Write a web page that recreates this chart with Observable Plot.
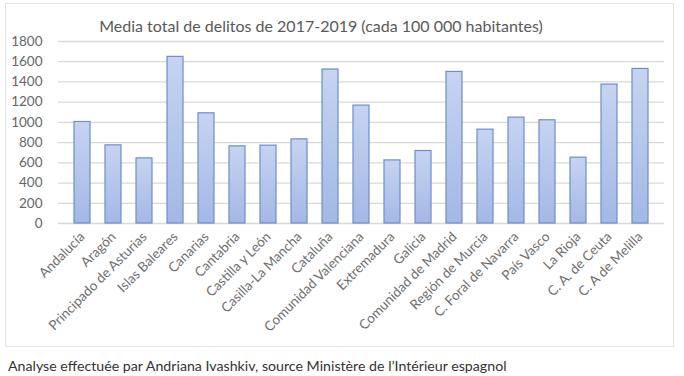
<!DOCTYPE html>
<html>
<head>
<meta charset="utf-8">
<script src="https://cdn.jsdelivr.net/npm/d3@7"></script>
<script src="https://cdn.jsdelivr.net/npm/@observablehq/plot@0.6"></script>
<style>
  html, body { margin: 0; padding: 0; background: #fff; }
  #wrap { position: relative; width: 684px; height: 376px; overflow: hidden; font-family: Lato, "Open Sans", sans-serif; }
  #frame { position: absolute; left: 5px; top: 3px; width: 669px; height: 344px; border: 1px solid #e3e3e3; box-sizing: border-box; }
  #title { position: absolute; left: 0; top: 16px; width: 642px; text-align: center; font-size: 16px; color: #595959; }
  #chart { position: absolute; left: 0; top: 0; }
  #caption { position: absolute; left: 8px; top: 357px; font-size: 14.2px; color: #333; white-space: nowrap; }
</style>
</head>
<body>
<div id="wrap">
  <div id="frame"></div>
  <div id="chart"></div>
  <div id="title">Media total de delitos de 2017-2019 (cada 100 000 habitantes)</div>
  <div id="caption">Analyse effectuée par Andriana Ivashkiv, source Ministère de l’Intérieur espagnol</div>
</div>
<script>
const regions = ["Andalucía", "Aragón", "Principado de Asturias", "Islas Baleares", "Canarias", "Cantabria", "Castilla y León", "Casilla-La Mancha", "Cataluña", "Comunidad Valenciana", "Extremadura", "Galicia", "Comunidad de Madrid", "Región de Murcia", "C. Foral de Navarra", "País Vasco", "La Rioja", "C. A. de Ceuta", "C. A de Melilla"];
const values = [1004, 773, 644, 1648, 1090, 763, 770, 832, 1523, 1166, 624, 717, 1499, 928, 1047, 1021, 651, 1374, 1529];
const yTicks = [0, 200, 400, 600, 800, 1000, 1200, 1400, 1600, 1800];

const data = regions.map((r, i) => ({region: r, value: values[i]}));

const plot = Plot.plot({
  width: 684,
  height: 350,
  marginLeft: 58,
  marginRight: 20,
  marginTop: 41,
  marginBottom: 127,
  style: {fontFamily: "Lato, 'Open Sans', sans-serif", background: "transparent"},
  x: {domain: regions, padding: 0.47, label: null, tickSize: 0, tickPadding: 11, tickRotate: -45},
  y: {domain: [0, 1800], ticks: yTicks, tickFormat: d => String(d), label: null, tickSize: 0, tickPadding: 16, grid: false},
  marks: [
    Plot.ruleY(yTicks, {stroke: "#d9d9d9", strokeWidth: 1.3}),
    Plot.barY(data, {x: "region", y: "value", fill: "url(#barGrad)", stroke: "#6f8dcc", strokeWidth: 1.2})
  ]
});

const ns = "http://www.w3.org/2000/svg";
const defs = document.createElementNS(ns, "defs");
defs.innerHTML = '<linearGradient id="barGrad" x1="0" y1="0" x2="0" y2="1"><stop offset="0" stop-color="#c6d4f1"/><stop offset="1" stop-color="#a3b8e6"/></linearGradient>';
plot.insertBefore(defs, plot.firstChild);

plot.querySelectorAll('[aria-label="y-axis tick label"]').forEach(g => {
  g.setAttribute("fill", "#666666");
  g.style.fontSize = "13.5px";
});
plot.querySelectorAll('[aria-label="x-axis tick label"]').forEach(g => {
  g.setAttribute("fill", "#6e6e6e");
  g.style.fontSize = "13.5px";
});

document.getElementById("chart").appendChild(plot);
</script>
</body>
</html>
